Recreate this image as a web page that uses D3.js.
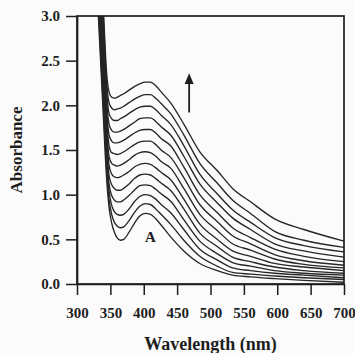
<!DOCTYPE html>
<html>
<head>
<meta charset="utf-8">
<script src="https://cdn.jsdelivr.net/npm/d3@7"></script>
<style>
  body { margin: 0; background: #fbfbfb; }
  svg { display: block; }
  text { font-family: "Liberation Serif", "Times New Roman", serif; font-weight: bold; fill: #1e1e1e; }
</style>
</head>
<body>
<div id="chart"></div>
<script>
// wavelength grid (nm) shared by all spectra
const wavelengths = [326, 332, 336, 340, 344, 348, 352, 356, 360, 365, 370, 378, 386, 394, 402, 410, 418, 426, 440, 460, 484, 510, 533, 560, 596, 640, 700];

// absorbance spectra, top (latest) to bottom (A)
const spectrum13 = [5.1, 4.2, 3.6, 3.0, 2.4, 2.15, 2.09, 2.08, 2.09, 2.11, 2.13, 2.17, 2.21, 2.24, 2.26, 2.26, 2.22, 2.15, 2.03, 1.79, 1.48, 1.27, 1.07, 0.92, 0.73, 0.61, 0.48];
const spectrum12 = [5.0, 4.1, 3.5, 2.9, 2.3, 2.03, 1.97, 1.95, 1.96, 1.97, 1.99, 2.03, 2.07, 2.10, 2.12, 2.12, 2.08, 2.02, 1.91, 1.67, 1.35, 1.13, 0.94, 0.79, 0.59, 0.49, 0.41];
const spectrum11 = [4.9, 4.0, 3.4, 2.8, 2.2, 1.91, 1.85, 1.83, 1.83, 1.85, 1.87, 1.91, 1.95, 1.98, 1.99, 1.99, 1.95, 1.89, 1.79, 1.55, 1.23, 1.01, 0.83, 0.69, 0.52, 0.43, 0.36];
const spectrum10 = [4.8, 3.9, 3.3, 2.7, 2.1, 1.79, 1.72, 1.70, 1.70, 1.71, 1.73, 1.77, 1.81, 1.85, 1.86, 1.86, 1.82, 1.76, 1.67, 1.43, 1.12, 0.91, 0.74, 0.61, 0.45, 0.37, 0.30];
const spectrum9  = [4.7, 3.8, 3.2, 2.6, 2.0, 1.67, 1.60, 1.58, 1.58, 1.59, 1.61, 1.65, 1.69, 1.72, 1.73, 1.73, 1.69, 1.63, 1.55, 1.31, 1.00, 0.80, 0.63, 0.52, 0.39, 0.31, 0.25];
const spectrum8  = [4.6, 3.7, 3.1, 2.5, 1.9, 1.55, 1.47, 1.46, 1.45, 1.46, 1.48, 1.52, 1.56, 1.59, 1.60, 1.60, 1.56, 1.50, 1.42, 1.19, 0.89, 0.70, 0.54, 0.45, 0.33, 0.26, 0.21];
const spectrum7  = [4.5, 3.6, 3.0, 2.4, 1.8, 1.43, 1.35, 1.33, 1.32, 1.33, 1.35, 1.39, 1.44, 1.47, 1.48, 1.47, 1.43, 1.37, 1.30, 1.07, 0.78, 0.60, 0.45, 0.38, 0.28, 0.22, 0.18];
const spectrum6  = [4.4, 3.5, 2.9, 2.3, 1.7, 1.33, 1.23, 1.20, 1.19, 1.20, 1.22, 1.26, 1.31, 1.34, 1.35, 1.34, 1.30, 1.25, 1.17, 0.95, 0.67, 0.50, 0.37, 0.31, 0.23, 0.19, 0.15];
const spectrum5  = [4.3, 3.4, 2.8, 2.2, 1.6, 1.22, 1.11, 1.07, 1.05, 1.05, 1.07, 1.12, 1.18, 1.22, 1.23, 1.22, 1.18, 1.13, 1.05, 0.84, 0.57, 0.42, 0.30, 0.25, 0.19, 0.15, 0.12];
const spectrum4  = [4.2, 3.3, 2.7, 2.1, 1.5, 1.12, 0.99, 0.94, 0.92, 0.92, 0.94, 0.99, 1.05, 1.10, 1.11, 1.10, 1.06, 1.01, 0.93, 0.72, 0.48, 0.34, 0.24, 0.20, 0.15, 0.12, 0.10];
const spectrum3  = [4.1, 3.2, 2.6, 2.0, 1.42, 1.04, 0.88, 0.81, 0.78, 0.77, 0.78, 0.84, 0.92, 0.98, 1.00, 0.99, 0.95, 0.89, 0.80, 0.61, 0.39, 0.27, 0.18, 0.15, 0.12, 0.10, 0.07];
const spectrum2  = [4.0, 3.1, 2.5, 1.9, 1.32, 0.95, 0.78, 0.69, 0.65, 0.63, 0.64, 0.71, 0.80, 0.87, 0.90, 0.89, 0.84, 0.78, 0.67, 0.49, 0.31, 0.20, 0.13, 0.11, 0.09, 0.07, 0.05];
const spectrum1  = [3.9, 3.0, 2.4, 1.8, 1.22, 0.86, 0.68, 0.58, 0.52, 0.49, 0.50, 0.58, 0.68, 0.76, 0.79, 0.78, 0.73, 0.66, 0.53, 0.37, 0.23, 0.15, 0.10, 0.08, 0.06, 0.04, 0.02];

const spectra = [spectrum1, spectrum2, spectrum3, spectrum4, spectrum5, spectrum6, spectrum7,
                 spectrum8, spectrum9, spectrum10, spectrum11, spectrum12, spectrum13];

const xTicks = [300, 350, 400, 450, 500, 550, 600, 650, 700];
const yTicks = [0.0, 0.5, 1.0, 1.5, 2.0, 2.5, 3.0];

const width = 355, height = 353;
const margin = {top: 16, right: 11, bottom: 69, left: 77};

let svg = d3.select("#chart")
  .append("svg")
  .attr("width", width)
  .attr("height", height);

let x = d3.scaleLinear().domain([300, 700]).range([margin.left, width - margin.right]);
let y = d3.scaleLinear().domain([0, 3]).range([height - margin.bottom, margin.top]);

svg.append("clipPath").attr("id", "plot")
  .append("rect")
  .attr("x", x(300)).attr("y", y(3))
  .attr("width", x(700) - x(300)).attr("height", y(0) - y(3));

// spectra
let line = d3.line()
  .x((d, i) => x(wavelengths[i]))
  .y(d => y(d))
  .curve(d3.curveMonotoneX);

svg.append("g")
  .attr("clip-path", "url(#plot)")
  .selectAll("path")
  .data(spectra)
  .join("path")
  .attr("d", line)
  .attr("fill", "none")
  .attr("stroke", "#262626")
  .attr("stroke-width", 1.35);

// frame
svg.append("rect")
  .attr("x", x(300)).attr("y", y(3))
  .attr("width", x(700) - x(300)).attr("height", y(0) - y(3))
  .attr("fill", "none")
  .attr("stroke", "#1e1e1e")
  .attr("stroke-width", 1.7);

// axes
let yAxis = svg.append("g")
  .attr("transform", `translate(${x(300)},0)`)
  .call(d3.axisLeft(y).tickValues(yTicks).tickSize(11).tickSizeOuter(0).tickPadding(6).tickFormat(d3.format(".1f")));

let xAxis = svg.append("g")
  .attr("transform", `translate(0,${y(0)})`)
  .call(d3.axisBottom(x).tickValues(xTicks).tickSize(11).tickSizeOuter(0).tickPadding(12));

[yAxis, xAxis].forEach(g => {
  g.select(".domain").attr("stroke", "#1e1e1e").attr("stroke-width", 1.7);
  g.selectAll(".tick line").attr("stroke", "#1e1e1e").attr("stroke-width", 1.5);
  g.selectAll(".tick text")
    .style("font-family", "Liberation Serif, serif")
    .style("font-weight", "bold")
    .style("font-size", "15px")
    .attr("fill", "#1e1e1e");
});

// axis titles
svg.append("text")
  .attr("x", (x(300) + x(700)) / 2)
  .attr("y", 350)
  .style("text-anchor", "middle")
  .style("font-size", "18px")
  .text("Wavelength (nm)");

svg.append("text")
  .attr("transform", `translate(22,${(y(0) + y(3)) / 2}) rotate(-90)`)
  .style("text-anchor", "middle")
  .style("font-size", "17px")
  .text("Absorbance");

// curve label
svg.append("text")
  .attr("x", x(410))
  .attr("y", y(0.47))
  .style("text-anchor", "middle")
  .style("font-size", "15px")
  .text("A");

// arrow showing increase
svg.append("line")
  .attr("x1", x(468)).attr("x2", x(468))
  .attr("y1", y(1.92)).attr("y2", y(2.3))
  .attr("stroke", "#1e1e1e")
  .attr("stroke-width", 1.8);

svg.append("path")
  .attr("d", `M${x(468) - 4.5},${y(2.24)} L${x(468)},${y(2.36)} L${x(468) + 4.5},${y(2.24)} Z`)
  .attr("fill", "#1e1e1e");
</script>
</body>
</html>
